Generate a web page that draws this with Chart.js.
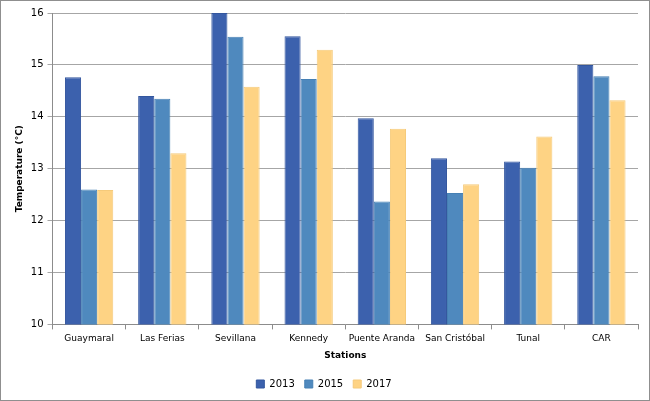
<!DOCTYPE html>
<html lang="en">
<head>
    <meta charset="UTF-8">
    <title>Temperature by Station</title>
    <script src="https://cdn.jsdelivr.net/npm/chart.js"></script>
    <style>
        html, body { margin: 0; padding: 0; background: #fff; }
        #frame {
            width: 648px; height: 399px;
            border: 1px solid #8f8f8f;
            position: relative;
        }
    </style>
</head>
<body>
    <div id="frame"><canvas id="tempChart"></canvas></div>

    <script>
        const stations = ['Guaymaral', 'Las Ferias', 'Sevillana', 'Kennedy', 'Puente Aranda', 'San Cristóbal', 'Tunal', 'CAR'];
        const years = ['2013', '2015', '2017'];
        const temp2013 = [14.76, 14.40, 16.00, 15.55, 13.97, 13.20, 13.14, 15.00];
        const temp2015 = [12.60, 14.35, 15.54, 14.73, 12.37, 12.53, 13.02, 14.78];
        const temp2017 = [12.59, 13.30, 14.58, 15.29, 13.77, 12.70, 13.62, 14.32];
        const yTicks = [10, 11, 12, 13, 14, 15, 16];

        const fillColors = ['#3c61ad', '#4f89be', '#fed384'];
        const edgeColors = ['#33569e', '#4680b4', '#f5ca7a'];

        Chart.defaults.font.family = '"DejaVu Sans", Verdana, sans-serif';
        Chart.defaults.font.size = 9;
        Chart.defaults.color = '#000';

        new Chart(document.getElementById('tempChart'), {
            type: 'bar',
            data: {
                labels: stations,
                datasets: [temp2013, temp2015, temp2017].map((vals, i) => ({
                    label: years[i],
                    data: vals,
                    backgroundColor: fillColors[i],
                    borderColor: edgeColors[i],
                    borderWidth: 1,
                    categoryPercentage: 0.66,
                    barPercentage: 1
                }))
            },
            options: {
                responsive: true,
                maintainAspectRatio: false,
                animation: false,
                layout: { padding: { top: 12, right: 11, left: 9, bottom: 1 } },
                plugins: {
                    legend: {
                        position: 'bottom',
                        labels: { boxWidth: 8, boxHeight: 8, padding: 10, font: { size: 10 } }
                    },
                    tooltip: { enabled: false }
                },
                scales: {
                    x: {
                        grid: { offset: true, drawOnChartArea: false, color: '#8c8c8c', tickLength: 5 },
                        border: { color: '#8c8c8c' },
                        ticks: { maxRotation: 0, autoSkip: false, padding: 4 },
                        title: { display: true, text: 'Stations', font: { weight: 'bold', size: 9 }, padding: { top: 2, bottom: 8 } }
                    },
                    y: {
                        min: 10,
                        max: 16,
                        afterBuildTicks: axis => { axis.ticks = yTicks.map(v => ({ value: v })); },
                        afterFit: axis => { axis.paddingTop = 6; },
                        grid: { color: '#a6a6a6', tickLength: 5 },
                        border: { color: '#8c8c8c' },
                        ticks: { padding: 4, font: { size: 10 } },
                        title: { display: true, text: 'Temperature (°C)', font: { weight: 'bold', size: 9 }, padding: { top: 4, bottom: 2 } }
                    }
                }
            }
        });
    </script>
</body>
</html>
